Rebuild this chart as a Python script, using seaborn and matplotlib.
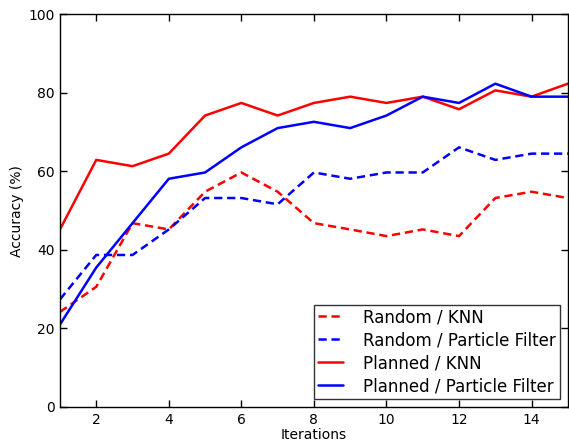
import matplotlib
matplotlib.use("Agg")
import matplotlib.pyplot as plt
import seaborn as sns
import pandas as pd

iterations = list(range(1, 16))
random_knn = [24.2, 30.6, 46.8, 45.2, 54.8, 59.7, 54.8, 46.8, 45.2, 43.5, 45.2, 43.5, 53.2, 54.8, 53.2]
random_pf = [27.4, 38.7, 38.7, 45.2, 53.2, 53.2, 51.6, 59.7, 58.1, 59.7, 59.7, 66.1, 62.9, 64.5, 64.5]
planned_knn = [45.2, 62.9, 61.3, 64.5, 74.2, 77.4, 74.2, 77.4, 79.0, 77.4, 79.0, 75.8, 80.6, 79.0, 82.3]
planned_pf = [21.0, 35.5, 46.8, 58.1, 59.7, 66.1, 71.0, 72.6, 71.0, 74.2, 79.0, 77.4, 82.3, 79.0, 79.0]

series_names = ["Random / KNN", "Random / Particle Filter", "Planned / KNN", "Planned / Particle Filter"]
series_values = [random_knn, random_pf, planned_knn, planned_pf]
colors = ["#ff0000", "#0000ff", "#ff0000", "#0000ff"]
styles = [(0, (3.3, 1.9)), (0, (3.3, 1.9)), "-", "-"]

sns.set_style("ticks")
plt.rcParams["font.family"] = ["DejaVu Sans"]
plt.rcParams["text.color"] = "black"
plt.rcParams["axes.labelcolor"] = "black"

fig = plt.figure(figsize=(5.69, 4.43), dpi=100)
ax = fig.add_axes([0.1054, 0.0813, 0.8926, 0.8867])

for name, vals, c, ls in zip(series_names, series_values, colors, styles):
    df = pd.DataFrame({"Iterations": iterations, "Accuracy": vals})
    sns.lineplot(data=df, x="Iterations", y="Accuracy", ax=ax, color=c,
                 linestyle=ls, linewidth=1.8, label=name)

ax.set_xlim(1, 15)
ax.set_ylim(0, 100)
ax.set_xticks([2, 4, 6, 8, 10, 12, 14])
ax.set_yticks([0, 20, 40, 60, 80, 100])
ax.set_xlabel("Iterations", fontsize=10, labelpad=1)
ax.set_ylabel("Accuracy (%)", fontsize=10, labelpad=3)
ax.tick_params(direction="in", top=True, right=True, labelsize=10, length=5, width=1, pad=4, colors="black")
for s in ax.spines.values():
    s.set_linewidth(1)
    s.set_color("black")
leg = ax.legend(loc="lower right", fontsize=12, frameon=True, fancybox=False,
                handlelength=1.5, handletextpad=1.25, borderaxespad=0.5,
                labelspacing=0.3, borderpad=0.2)
leg.get_frame().set_edgecolor("black")
leg.get_frame().set_linewidth(1)
fig.savefig("out.png", dpi=100)
